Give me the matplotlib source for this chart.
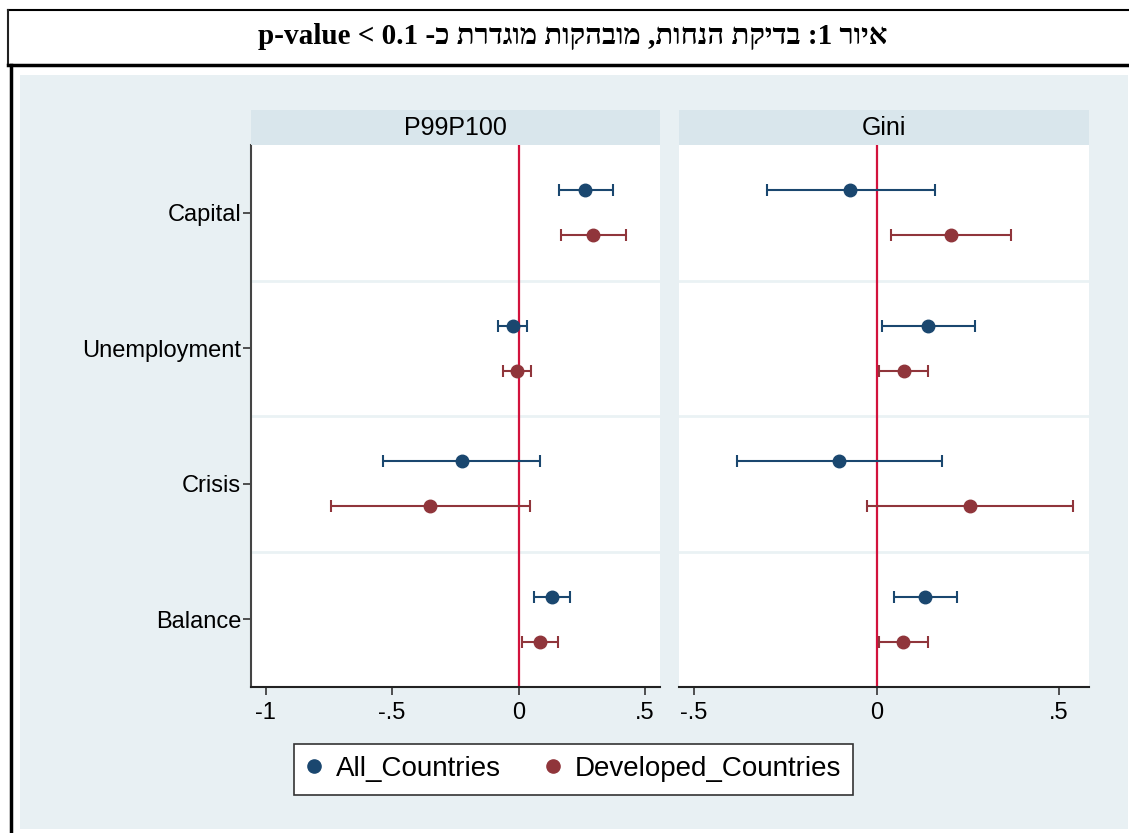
import matplotlib
matplotlib.use("Agg")
import matplotlib.pyplot as plt
from matplotlib.patches import Rectangle
from matplotlib.lines import Line2D

# data
categories = ["Capital", "Unemployment", "Crisis", "Balance"]
panels = ["P99P100", "Gini"]
series = ["All_Countries", "Developed_Countries"]

# P99P100 panel: point estimate, lower CI, upper CI
p99_all = [0.263, -0.021, -0.223, 0.132]
p99_all_lo = [0.158, -0.080, -0.535, 0.062]
p99_all_hi = [0.373, 0.034, 0.086, 0.204]
p99_dev = [0.296, -0.005, -0.349, 0.086]
p99_dev_lo = [0.169, -0.060, -0.743, 0.013]
p99_dev_hi = [0.425, 0.050, 0.046, 0.154]

# Gini panel
gini_all = [-0.073, 0.141, -0.102, 0.134]
gini_all_lo = [-0.301, 0.015, -0.381, 0.048]
gini_all_hi = [0.160, 0.269, 0.180, 0.221]
gini_dev = [0.204, 0.075, 0.256, 0.073]
gini_dev_lo = [0.039, 0.006, -0.027, 0.007]
gini_dev_hi = [0.367, 0.140, 0.539, 0.140]

p99_ticks = [-1, -0.5, 0, 0.5]
p99_ticklabels = ["-1", "-.5", "0", ".5"]
gini_ticks = [-0.5, 0, 0.5]
gini_ticklabels = ["-.5", "0", ".5"]

title_heb = "איור 1: בדיקת הנחות, מובהקות מוגדרת כ-"
title_visual = "p-value < 0.1 " + title_heb[::-1]  # no bidi in matplotlib

c_all = "#1a476f"
c_dev = "#90353b"
c_zero = "#d2123c"
bg = "#e8f0f3"
strip_c = "#d9e6ec"

plt.rcParams["font.family"] = ["Liberation Sans", "DejaVu Sans"]

W, H = 1129, 833
fig = plt.figure(figsize=(W / 100, H / 100), dpi=100)
fig.patch.set_facecolor("white")


def fx(px):
    return px / W


def fy(py):
    return 1 - py / H


# frames around title and chart
fig.add_artist(Rectangle((fx(20), fy(829)), fx(1108), (829 - 75) / H,
                         transform=fig.transFigure, facecolor=bg, edgecolor="none", zorder=0))
fig.add_artist(Line2D([fx(8), fx(1129)], [fy(10), fy(10)], transform=fig.transFigure, color="black", lw=1.5))
fig.add_artist(Line2D([fx(8), fx(8)], [fy(10), fy(64)], transform=fig.transFigure, color="#222222", lw=1.5))
fig.add_artist(Line2D([fx(8), fx(1129)], [fy(65), fy(65)], transform=fig.transFigure, color="black", lw=2.5))
fig.add_artist(Line2D([fx(11), fx(11)], [fy(65), fy(833)], transform=fig.transFigure, color="black", lw=2.5))

fig.text(fx(573), fy(37), title_visual, ha="center", va="center", fontsize=21, fontweight="bold",
         family=["Liberation Serif", "DejaVu Serif", "DejaVu Sans"])

panel_data = [
    (p99_all, p99_all_lo, p99_all_hi, p99_dev, p99_dev_lo, p99_dev_hi, p99_ticks, p99_ticklabels, (-1.058, 0.559)),
    (gini_all, gini_all_lo, gini_all_hi, gini_dev, gini_dev_lo, gini_dev_hi, gini_ticks, gini_ticklabels, (-0.541, 0.582)),
]
lefts = [251, 679]
widths = [409, 410]
ypos = [3, 2, 1, 0]
off = 0.167

for k, (a, alo, ahi, d, dlo, dhi, ticks, tlabels, xlim) in enumerate(panel_data):
    ax = fig.add_axes([fx(lefts[k]), fy(687), fx(widths[k]), (687 - 145) / H])
    ax.set_facecolor("white")
    for b in [0.5, 1.5, 2.5]:
        ax.axhline(b, color="#eaf2f4", lw=2, zorder=1)
    ax.axvline(0, color=c_zero, lw=1.6, zorder=2)

    ya = [y + off for y in ypos]
    yd = [y - off for y in ypos]
    ax.errorbar(a, ya, xerr=[[v - l for v, l in zip(a, alo)], [h - v for v, h in zip(a, ahi)]],
                fmt="o", color=c_all, ms=9, elinewidth=1.5, capsize=4, capthick=1.5, zorder=3)
    ax.errorbar(d, yd, xerr=[[v - l for v, l in zip(d, dlo)], [h - v for v, h in zip(d, dhi)]],
                fmt="o", color=c_dev, ms=9, elinewidth=1.5, capsize=4, capthick=1.5, zorder=3)

    ax.set_xlim(*xlim)
    ax.set_ylim(-0.5, 3.5)
    ax.set_xticks(ticks)
    ax.set_xticklabels(tlabels)
    ax.tick_params(axis="x", length=6, width=1.2, color="#333333", labelsize=17, pad=5)
    for s in ["top", "right"]:
        ax.spines[s].set_visible(False)
    ax.spines["bottom"].set_color("#222222")
    ax.spines["bottom"].set_linewidth(1.5)
    if k == 0:
        ax.set_yticks(ypos)
        ax.set_yticklabels(categories)
        ax.tick_params(axis="y", length=6, width=1.2, color="#333333", labelsize=17, pad=1)
        ax.spines["left"].set_color("#444444")
        ax.spines["left"].set_linewidth(1.5)
    else:
        ax.set_yticks([])
        ax.spines["left"].set_visible(False)

    # strip with panel name
    fig.add_artist(Rectangle((fx(lefts[k]), fy(145)), fx(widths[k]), 35 / H,
                             transform=fig.transFigure, facecolor=strip_c, edgecolor="none"))
    fig.text(fx(lefts[k] + widths[k] / 2), fy(128), panels[k], ha="center", va="center", fontsize=18)

handles = [Line2D([], [], marker="o", ls="none", color=c_all, ms=9.5),
           Line2D([], [], marker="o", ls="none", color=c_dev, ms=9.5)]
leg = fig.legend(handles, series, loc="center", bbox_to_anchor=(fx(573.5), fy(769)), ncol=2,
                 fontsize=20, frameon=True, fancybox=False, edgecolor="#333333", facecolor="white",
                 framealpha=1, handletextpad=0.46, columnspacing=1.6, borderpad=0.45, handlelength=0.6)
leg.get_frame().set_linewidth(1.2)

fig.savefig("out.png", dpi=100, facecolor="white")
